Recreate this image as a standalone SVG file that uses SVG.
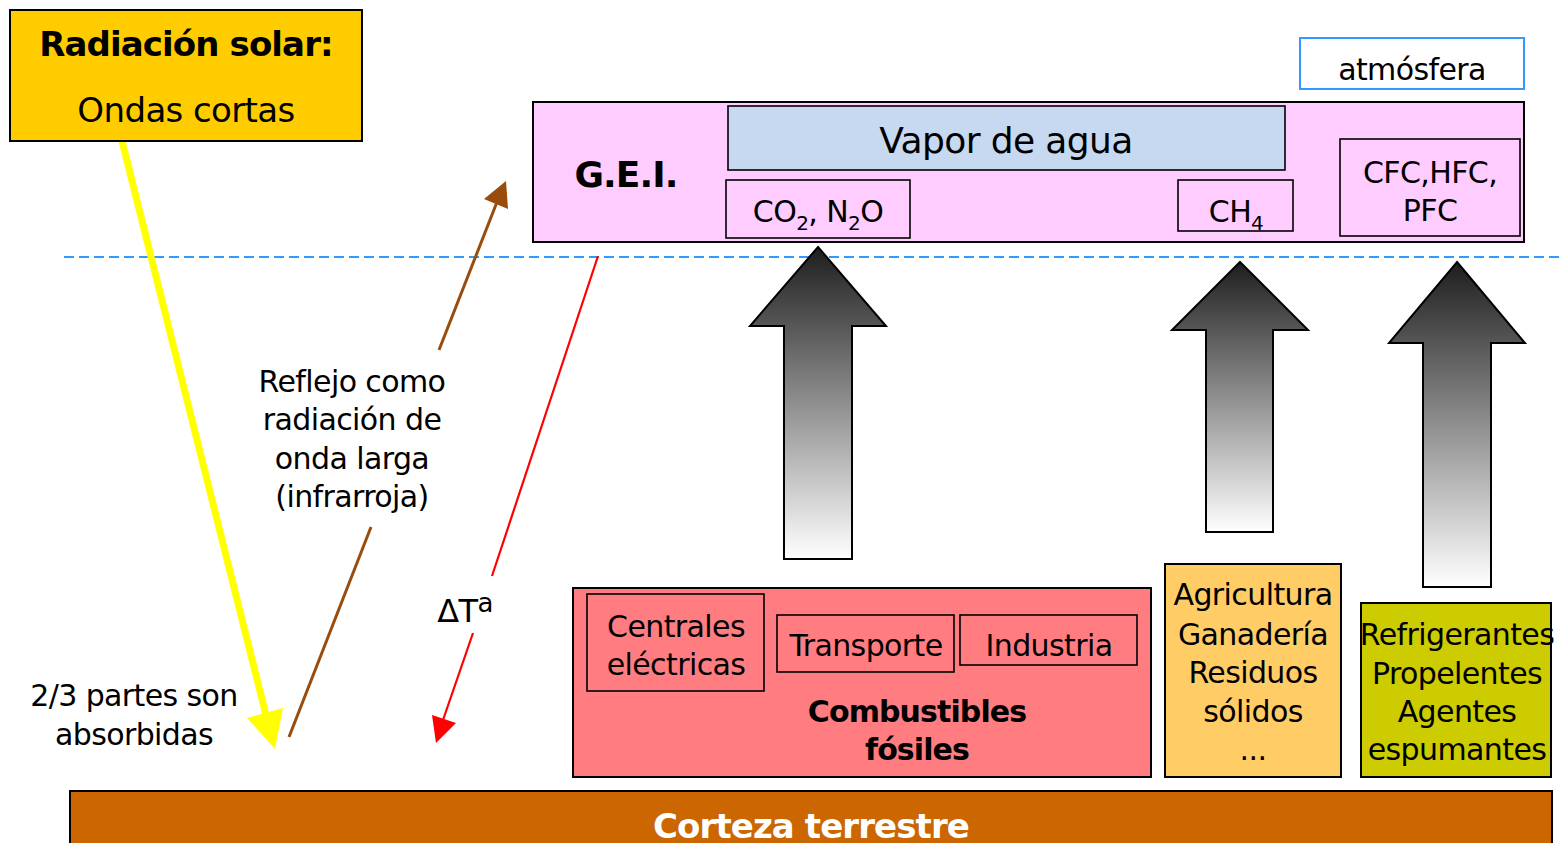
<svg xmlns="http://www.w3.org/2000/svg" width="1564" height="843" viewBox="0 0 1564 843">
<defs>
<style>
text{font-family:"DejaVu Sans","Liberation Sans",sans-serif;fill:#000;text-anchor:middle;letter-spacing:-0.6px}
.t{font-size:30px}
.b{font-weight:bold;letter-spacing:-0.9px}
.box{stroke:#000;stroke-width:2}
.in{fill:none;stroke:#000;stroke-width:1.6}
.big{stroke:#000;stroke-width:2;fill:url(#g)}
</style>
<linearGradient id="g" x1="0" y1="0" x2="0" y2="1">
<stop offset="0" stop-color="#1e1e1e"/>
<stop offset="1" stop-color="#ffffff"/>
</linearGradient>
</defs>
<rect width="1564" height="843" fill="#fff"/>
<g id="connectors">
<line x1="64" y1="257" x2="1564" y2="257" stroke="#3399FF" stroke-width="1.8" stroke-dasharray="10 5"/>
<line x1="122" y1="141" x2="266" y2="715" stroke="#FFFF00" stroke-width="7"/>
<polygon points="247,718 283,708 275,749" fill="#FFFF00"/>
<line x1="289" y1="737" x2="371" y2="527" stroke="#994C0C" stroke-width="3"/>
<line x1="439" y1="350" x2="497" y2="202" stroke="#994C0C" stroke-width="3"/>
<polygon points="484,199 508,209 506,181" fill="#994C0C"/>
<line x1="598" y1="256" x2="492" y2="576" stroke="#FF0000" stroke-width="2.2"/>
<line x1="473" y1="633" x2="443" y2="720" stroke="#FF0000" stroke-width="2.2"/>
<polygon points="432,715 456,723 436,743" fill="#FF0000"/>
</g>
<g id="solar">
<rect class="box" x="10" y="10" width="352" height="131" fill="#FFCC00"/>
<text class="b" x="186" y="56" font-size="34">Radiación solar:</text>
<text x="186" y="122" font-size="34">Ondas cortas</text>
</g>
<g id="atmosfera">
<rect x="1300" y="38" width="224" height="51" fill="#fff" stroke="#3399FF" stroke-width="2"/>
<text class="t" x="1412" y="80">atmósfera</text>
</g>
<g id="gei">
<rect class="box" x="533" y="102" width="991" height="140" fill="#FFCCFF"/>
<text class="b" x="626" y="187" font-size="36">G.E.I.</text>
</g>
<g id="vapor">
<rect x="728" y="106" width="557" height="64" fill="#C6D9F0" stroke="#000" stroke-width="1.6"/>
<text x="1006" y="153" font-size="36">Vapor de agua</text>
</g>
<g id="co2">
<rect class="in" x="726" y="180" width="184" height="58"/>
<text class="t" x="818" y="222">CO<tspan font-size="20" dy="8">2</tspan><tspan dy="-8">, N</tspan><tspan font-size="20" dy="8">2</tspan><tspan dy="-8">O</tspan></text>
</g>
<g id="ch4">
<rect class="in" x="1178" y="180" width="115" height="51"/>
<text class="t" x="1236" y="222">CH<tspan font-size="20" dy="8">4</tspan></text>
</g>
<g id="cfc">
<rect class="in" x="1340" y="139" width="180" height="97"/>
<text class="t" x="1430" y="183">CFC,HFC,</text>
<text class="t" x="1430" y="221">PFC</text>
</g>
<g id="reflejo">
<text class="t" x="352" y="392">Reflejo como</text>
<text class="t" x="352" y="430">radiación de</text>
<text class="t" x="352" y="469">onda larga</text>
<text class="t" x="352" y="507">(infrarroja)</text>
</g>
<g id="absorbidas">
<text class="t" x="134" y="706">2/3 partes son</text>
<text class="t" x="134" y="745">absorbidas</text>
</g>
<g id="deltaT">
<text x="465" y="622" font-size="32">ΔT<tspan font-size="26" dy="-10">a</tspan></text>
</g>
<g id="flecha1"><polygon class="big" points="818,247 886,326 852,326 852,559 784,559 784,326 750,326"/></g>
<g id="flecha2"><polygon class="big" points="1240,262 1308,330 1273,330 1273,532 1206,532 1206,330 1172,330"/></g>
<g id="flecha3"><polygon class="big" points="1457,262 1525,343 1491,343 1491,587 1423,587 1423,343 1389,343"/></g>
<g id="combustibles">
<rect class="box" x="573" y="588" width="578" height="189" fill="#FF7C80"/>
<rect class="in" x="587" y="594" width="177" height="97"/>
<text class="t" x="676" y="637">Centrales</text>
<text class="t" x="676" y="675">eléctricas</text>
<rect class="in" x="777" y="615" width="177" height="57"/>
<text class="t" x="866" y="656">Transporte</text>
<rect class="in" x="960" y="615" width="177" height="50"/>
<text class="t" x="1049" y="656">Industria</text>
<text class="t b" x="917" y="722">Combustibles</text>
<text class="t b" x="917" y="760">fósiles</text>
</g>
<g id="agricultura">
<rect class="box" x="1165" y="564" width="176" height="213" fill="#FFCC66"/>
<text class="t" x="1253" y="605">Agricultura</text>
<text class="t" x="1253" y="645">Ganadería</text>
<text class="t" x="1253" y="683">Residuos</text>
<text class="t" x="1253" y="722">sólidos</text>
<text class="t" x="1253" y="760">...</text>
</g>
<g id="refrigerantes">
<rect class="box" x="1361" y="603" width="190" height="174" fill="#CCCC00"/>
<text class="t" x="1457" y="645">Refrigerantes</text>
<text class="t" x="1457" y="684">Propelentes</text>
<text class="t" x="1457" y="722">Agentes</text>
<text class="t" x="1457" y="760">espumantes</text>
</g>
<g id="corteza">
<rect class="box" x="70" y="791" width="1482" height="60" fill="#CC6600"/>
<text class="b" x="811" y="838" font-size="34" style="fill:#fff">Corteza terrestre</text>
</g>
</svg>
